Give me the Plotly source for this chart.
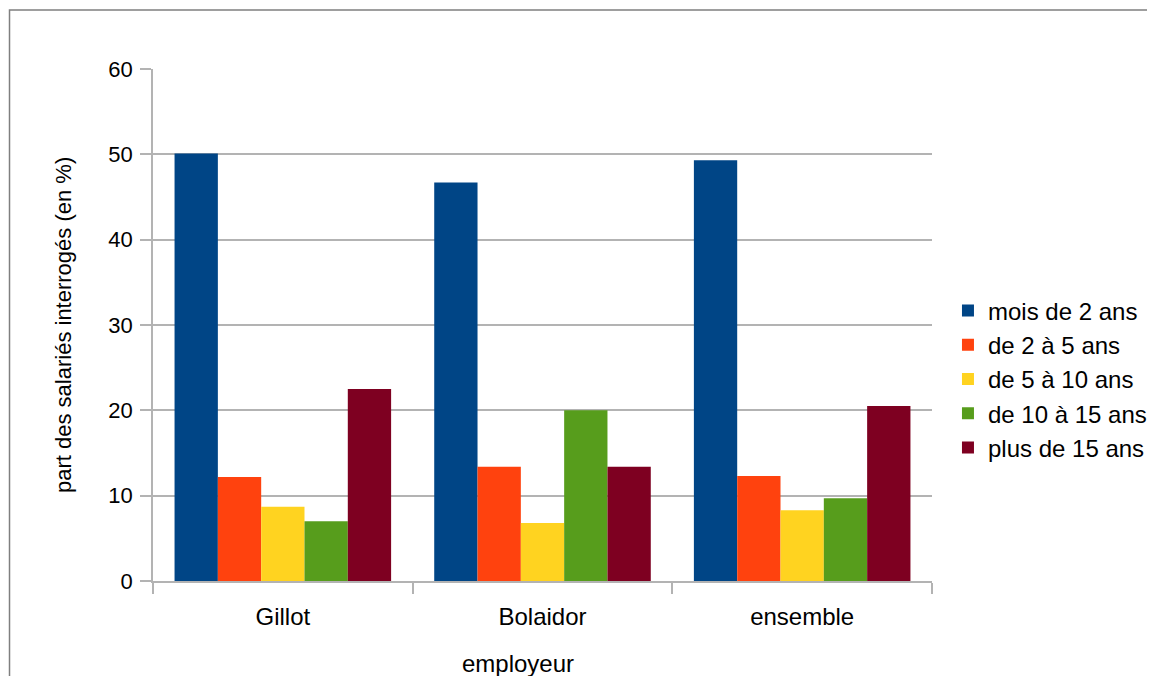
import plotly.graph_objects as go

# Employers on the x axis, one bar per seniority band
EMPLOYEURS = ['Gillot', 'Bolaidor', 'ensemble']
TRANCHES = ['mois de 2 ans', 'de 2 à 5 ans', 'de 5 à 10 ans',
            'de 10 à 15 ans', 'plus de 15 ans']

MOINS_2 = [50.1, 46.7, 49.3]
DE_2_5 = [12.2, 13.4, 12.3]
DE_5_10 = [8.7, 6.8, 8.3]
DE_10_15 = [7.0, 20.0, 9.7]
PLUS_15 = [22.5, 13.4, 20.5]

SERIES = [MOINS_2, DE_2_5, DE_5_10, DE_10_15, PLUS_15]
COLORS = ['#004586', '#ff420e', '#ffd320', '#579d1c', '#7e0021']

Y_TICKS = [0, 10, 20, 30, 40, 50, 60]

GRID = '#b3b3b3'
FONT = 'Liberation Sans'

fig = go.Figure()
for name, vals, color in zip(TRANCHES, SERIES, COLORS):
    fig.add_trace(go.Bar(
        x=EMPLOYEURS, y=vals, name=name,
        marker=dict(color=color, line=dict(width=0)),
    ))

# page body has an 8px margin, so the figure is sized/offset for it
fig.update_layout(
    width=1147, height=668,
    margin=dict(l=145, r=223, t=61, b=95, autoexpand=False),
    paper_bgcolor='white', plot_bgcolor='white',
    font=dict(family=FONT, size=22, color='black'),
    barmode='group', bargap=0.166, bargroupgap=0,
    showlegend=True,
    legend=dict(
        x=1.0205, xanchor='left', y=0.3945, yanchor='middle',
        font=dict(family=FONT, size=24, color='black'),
        bgcolor='rgba(0,0,0,0)',
    ),
)

fig.update_xaxes(
    tickson='boundaries', ticks='outside', ticklen=11, tickcolor=GRID,
    tickwidth=1.5, showline=True, linecolor=GRID, linewidth=1.5,
    showgrid=False, tickfont=dict(size=24), ticklabelstandoff=13,
)
fig.update_yaxes(
    range=[0, 60], tickvals=Y_TICKS, ticks='outside', ticklen=11,
    tickcolor=GRID, tickwidth=1.5, showline=True, linecolor=GRID,
    linewidth=1.5, showgrid=True, gridcolor=GRID, gridwidth=1.5,
    zeroline=False, tickfont=dict(size=22), ticklabelstandoff=3,
)

# axis titles placed as annotations
fig.add_annotation(
    text='part des salariés interrogés (en %)', textangle=-90,
    xref='paper', yref='paper', x=-0.1155, y=0.5,
    xanchor='center', yanchor='middle', showarrow=False,
    font=dict(size=22),
)
fig.add_annotation(
    text='employeur', xref='paper', yref='paper', x=0.4685, y=-0.161,
    xanchor='center', yanchor='middle', showarrow=False,
    font=dict(size=24),
)

# chart frame (left and top edges visible in the crop)
fig.add_shape(
    type='path', xref='paper', yref='paper',
    path='M -0.1842 -0.2 L -0.1842 1.1152 L 1.3 1.1152',
    line=dict(color='#7f7f7f', width=1.5),
)

fig.write_html('out.html')
